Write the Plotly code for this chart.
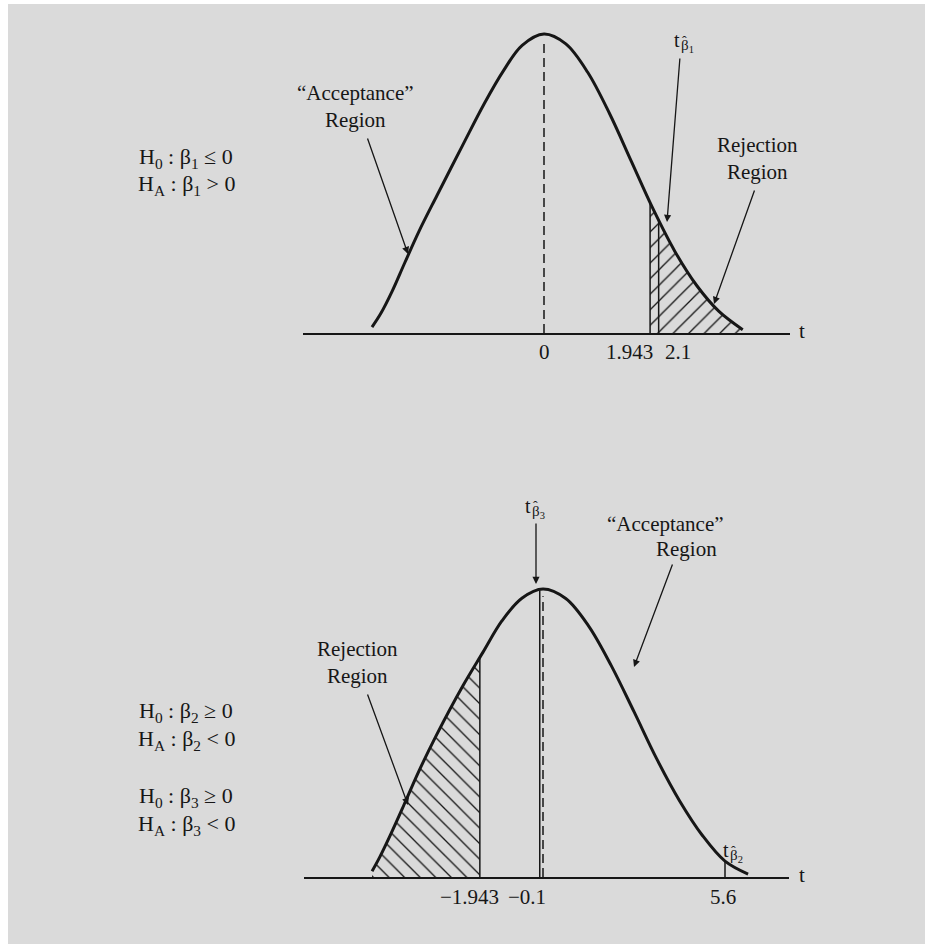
import numpy as np
import plotly.graph_objects as go

# ---------------------------------------------------------------------------
# Data
# ---------------------------------------------------------------------------
# Upper diagram: H0: b1 <= 0 vs HA: b1 > 0 (right-tail test)
upper_t = [-3.15, -2.99, -2.78, -2.55, -2.29, -1.96, -1.47, -1.1, -0.75, -0.4, 0.0,
           0.4, 0.8, 1.2, 1.6, 2.0, 2.4, 2.8, 3.2, 3.64]
upper_density = [0.02, 0.065, 0.14, 0.235, 0.34, 0.46, 0.635, 0.765, 0.875, 0.962, 1.0,
                 0.967, 0.872, 0.734, 0.574, 0.414, 0.272, 0.158, 0.073, 0.011]
upper_critical = 1.943
upper_stat_b1 = 2.1

# Lower diagram: H0: b >= 0 vs HA: b < 0 (left-tail tests for b2 and b3)
lower_t = [-5.26, -5.02, -4.68, -4.28, -3.85, -3.29, -2.46, -1.85, -1.26, -0.65, 0.0,
           0.7, 1.4, 2.1, 2.8, 3.5, 4.2, 4.9, 5.6, 6.31]
lower_density = [0.02, 0.07, 0.15, 0.25, 0.36, 0.49, 0.665, 0.78, 0.89, 0.968, 1.0,
                 0.967, 0.872, 0.734, 0.574, 0.41, 0.265, 0.145, 0.055, 0.01]
lower_critical = -1.943
lower_stat_b3 = -0.1
lower_stat_b2 = 5.6

# ---------------------------------------------------------------------------
# Page geometry and style
# ---------------------------------------------------------------------------
W, H = 925, 944
FONT = "Liberation Serif, Times New Roman, serif"
INK = "#161616"
GRAY = "#dadada"
FS = 21


def px(x):
    return x / W


def py(y):
    return 1 - y / H


panels = {
    "upper": dict(x="x", y="y", left=303, right=790, zero=544, scale=54.6,
                  base=333, peak=34),
    "lower": dict(x="x2", y="y2", left=304, right=789, zero=543, scale=32.5,
                  base=877, peak=589),
}

fig = go.Figure()


def curve_height(ts, dens, at):
    return float(np.interp(at, ts, dens))


def add_vline(p, at, top, dash=None, width=1.5):
    fig.add_trace(go.Scatter(
        x=[at, at], y=[0, top], mode="lines", xaxis=p["x"], yaxis=p["y"],
        line=dict(color=INK, width=width, dash=dash), hoverinfo="skip",
        showlegend=False))


def add_tail(p, xs, ys, shape):
    fig.add_trace(go.Scatter(
        x=xs, y=ys, mode="lines", xaxis=p["x"], yaxis=p["y"],
        line=dict(width=0, shape="spline", color=INK), fill="tozeroy",
        fillcolor=GRAY,
        fillpattern=dict(shape=shape, fgcolor=INK, bgcolor=GRAY, size=11,
                         solidity=0.12, fillmode="replace"),
        hoverinfo="skip", showlegend=False))


def add_curve(p, xs, ys):
    fig.add_trace(go.Scatter(
        x=xs, y=ys, mode="lines", xaxis=p["x"], yaxis=p["y"],
        line=dict(color=INK, width=3, shape="spline"), hoverinfo="skip",
        showlegend=False))


# --- upper diagram ---------------------------------------------------------
up = panels["upper"]
h_crit = curve_height(upper_t, upper_density, upper_critical)
tail_x = [upper_critical] + [t for t in upper_t if t > upper_critical]
tail_y = [h_crit] + [d for t, d in zip(upper_t, upper_density) if t > upper_critical]
add_tail(up, tail_x, tail_y, "/")
add_curve(up, upper_t, upper_density)
add_vline(up, upper_critical, h_crit)
add_vline(up, upper_stat_b1, curve_height(upper_t, upper_density, upper_stat_b1))
add_vline(up, 0.0, 0.975, dash="9px,5px")

# --- lower diagram ---------------------------------------------------------
lo = panels["lower"]
h_crit2 = curve_height(lower_t, lower_density, lower_critical)
tail_x = [t for t in lower_t if t < lower_critical] + [lower_critical]
tail_y = [d for t, d in zip(lower_t, lower_density) if t < lower_critical] + [h_crit2]
add_tail(lo, tail_x, tail_y, "\\")
add_curve(lo, lower_t, lower_density)
add_vline(lo, lower_critical, h_crit2)
add_vline(lo, lower_stat_b3, curve_height(lower_t, lower_density, lower_stat_b3))
add_vline(lo, lower_stat_b2, curve_height(lower_t, lower_density, lower_stat_b2))
add_vline(lo, 0.0, 0.975, dash="9px,5px")

# ---------------------------------------------------------------------------
# Axes
# ---------------------------------------------------------------------------
layout_axes = {}
for i, p in enumerate(panels.values()):
    sfx = "" if i == 0 else str(i + 1)
    head = 0.05
    span = p["base"] - p["peak"]
    layout_axes["xaxis" + sfx] = dict(
        domain=[px(p["left"]), px(p["right"])],
        range=[(p["left"] - p["zero"]) / p["scale"], (p["right"] - p["zero"]) / p["scale"]],
        anchor="y" + sfx, showgrid=False, zeroline=False, showticklabels=False,
        ticks="", showline=True, linecolor=INK, linewidth=1.6, fixedrange=True)
    layout_axes["yaxis" + sfx] = dict(
        domain=[py(p["base"]), py(p["peak"] - head * span)],
        range=[0, 1 + head], anchor="x" + sfx, visible=False, fixedrange=True)

# ---------------------------------------------------------------------------
# Text
# ---------------------------------------------------------------------------
annotations = []


def text(x, y, s, size=FS, anchor="center"):
    annotations.append(dict(
        x=px(x), y=py(y), xref="paper", yref="paper", text=s, showarrow=False,
        xanchor=anchor, yanchor="middle", font=dict(family=FONT, size=size, color=INK)))


def tick(axis, value, y, s, anchor="center", shift=0):
    annotations.append(dict(
        x=value, y=py(y), xref=axis, yref="paper", text=s, showarrow=False,
        xanchor=anchor, yanchor="middle", xshift=shift,
        font=dict(family=FONT, size=FS, color=INK)))


def arrow(tail, tip):
    annotations.append(dict(
        x=px(tip[0]), y=py(tip[1]), xref="paper", yref="paper", text="",
        showarrow=True, ax=tail[0] - tip[0], ay=tail[1] - tip[1],
        arrowhead=2, arrowsize=1.1, arrowwidth=1.3, arrowcolor=INK, standoff=0))


def t_hat(x, y, k):
    # t statistic of an estimated coefficient: t, subscript beta_k, hat over beta
    text(x, y, "t", size=20)
    text(x + 2, y + 6, "β<sub>%d</sub>" % k, size=15, anchor="left")
    text(x + 7, y + 1, "ˆ", size=14)


# upper
text(186, 158, "H<sub>0</sub> : β<sub>1</sub> ≤ 0", size=22)
text(186, 185, "H<sub>A</sub> : β<sub>1</sub> &gt; 0", size=22)
text(355, 106, "“Acceptance”<br>Region")
arrow((367, 137), (408, 254))
text(757, 158, "Rejection<br>Region")
arrow((755, 189), (714, 304))
t_hat(677, 40, 1)
arrow((680, 57), (667, 222))
tick("x", 0, 352, "0")
tick("x", upper_critical, 352, str(upper_critical), anchor="right", shift=5)
tick("x", upper_stat_b1, 352, str(upper_stat_b1), anchor="left", shift=4)
text(802, 331, "t")

# lower
text(186, 712, "H<sub>0</sub> : β<sub>2</sub> ≥ 0", size=22)
text(186, 740, "H<sub>A</sub> : β<sub>2</sub> &lt; 0", size=22)
text(186, 797, "H<sub>0</sub> : β<sub>3</sub> ≥ 0", size=22)
text(186, 825, "H<sub>A</sub> : β<sub>3</sub> &lt; 0", size=22)
text(357, 662, "Rejection<br>Region")
arrow((367, 693), (408, 805))
text(665, 524, "“Acceptance”")
text(686, 549, "Region")
arrow((673, 563), (634, 667))
t_hat(528, 506, 3)
arrow((536, 522), (536, 584))
t_hat(726, 850, 2)
tick("x2", lower_critical, 897, "−1.943", shift=-10)
tick("x2", lower_stat_b3, 897, "−0.1", shift=-13)
tick("x2", lower_stat_b2, 897, str(lower_stat_b2), shift=-2)
text(802, 875, "t")

# grey panel behind the diagrams
shapes = [dict(type="rect", xref="paper", yref="paper", x0=px(8), x1=1, y0=0, y1=py(4),
               fillcolor=GRAY, line=dict(width=0), layer="below")]

fig.update_layout(
    width=W, height=H, margin=dict(l=0, r=0, t=0, b=0),
    paper_bgcolor="white", plot_bgcolor="rgba(0,0,0,0)",
    showlegend=False, annotations=annotations, shapes=shapes, **layout_axes)

fig.write_html("out.html", config={"displayModeBar": False})
